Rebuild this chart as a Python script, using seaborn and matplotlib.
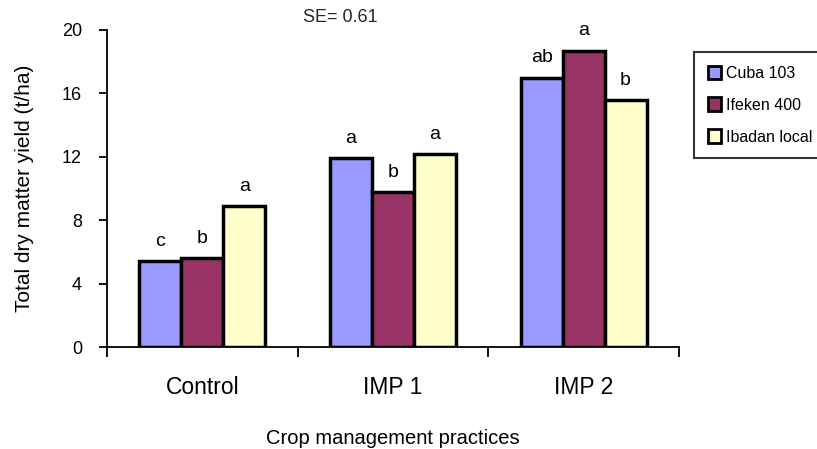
import numpy as np
import pandas as pd
import matplotlib
matplotlib.use('Agg')
import matplotlib.pyplot as plt
import seaborn as sns

# Data
practices = ['Control', 'IMP 1', 'IMP 2']
varieties = ['Cuba 103', 'Ifeken 400', 'Ibadan local']
cuba_103 = [5.4, 11.9, 17.0]
ifeken_400 = [5.6, 9.8, 18.7]
ibadan_local = [8.9, 12.2, 15.6]
letters_cuba = ['c', 'a', 'ab']
letters_ifeken = ['b', 'b', 'a']
letters_ibadan = ['a', 'a', 'b']
yticks = [0, 4, 8, 12, 16, 20]

df = pd.DataFrame({
    'practice': practices * 3,
    'variety': [varieties[0]] * 3 + [varieties[1]] * 3 + [varieties[2]] * 3,
    'yield': cuba_103 + ifeken_400 + ibadan_local,
})
letters = [letters_cuba, letters_ifeken, letters_ibadan]

sns.set_theme(style='white')
plt.rcParams['font.family'] = ['Liberation Sans', 'DejaVu Sans']

fig = plt.figure(figsize=(8.17, 4.49), dpi=100)
ax = fig.add_axes([107 / 817, 1 - 347 / 449, (679 - 107) / 817, (347 - 30) / 449])

palette = {'Cuba 103': '#9999FF', 'Ifeken 400': '#993366', 'Ibadan local': '#FFFFCC'}
sns.barplot(data=df, x='practice', y='yield', hue='variety', hue_order=varieties,
            order=practices, palette=palette, saturation=1, width=0.66,
            edgecolor='black', linewidth=2.5, ax=ax)

# significance letters above bars
for cont, labs in zip(ax.containers, letters):
    for bar, lab in zip(cont, labs):
        ax.annotate(lab, (bar.get_x() + bar.get_width() / 2, bar.get_height()),
                    xytext=(0, 8), textcoords='offset points',
                    ha='center', va='bottom', fontsize=14, color='black')

ax.set_ylim(0, 20)
ax.set_xlim(-0.5, 2.5)
ax.set_yticks(yticks)
ax.set_yticklabels([str(v) for v in yticks], fontsize=13)
ax.set_xticks(range(len(practices)))
ax.set_xticklabels(practices, fontsize=16.5)
ax.set_xticks([-0.5, 0.5, 1.5, 2.5], minor=True)
ax.tick_params(axis='x', which='major', length=0, pad=21, colors='black')
ax.tick_params(axis='x', which='minor', bottom=True, length=7, width=1.3,
               direction='out', color='black')
ax.tick_params(axis='y', length=6, width=1.3, direction='out', color='black',
               labelcolor='black', left=True, pad=12)

for s in ['top', 'right']:
    ax.spines[s].set_visible(False)
for s in ['left', 'bottom']:
    ax.spines[s].set_color('black')
    ax.spines[s].set_linewidth(1.3)

ax.set_xlabel('Crop management practices', fontsize=14.5, color='black', va='center')
ax.xaxis.set_label_coords(0.5, (347 - 438) / 317)
ax.set_ylabel('Total dry matter yield (t/ha)', fontsize=15, labelpad=20, color='black')
fig.text(340 / 817, 1 - 18 / 449, 'SE= 0.61', ha='center', va='center', fontsize=13)

leg = ax.legend(loc='upper left', bbox_to_anchor=(694 / 817, 1 - 52 / 449),
                bbox_transform=fig.transFigure, frameon=True, fontsize=11.5,
                handlelength=0.85, handleheight=0.9, handletextpad=0.3,
                labelspacing=1.05, borderpad=0.85, borderaxespad=0, fancybox=False)
leg.get_frame().set_edgecolor('black')
leg.get_frame().set_linewidth(1.5)
for t in leg.get_texts():
    t.set_color('black')
for h in leg.legend_handles:
    h.set_linewidth(2)

fig.savefig('out.png', dpi=100)
